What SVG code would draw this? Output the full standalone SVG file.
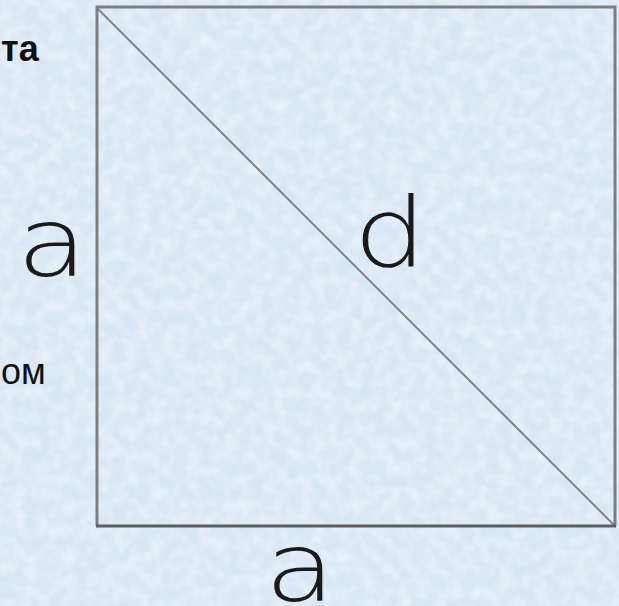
<svg xmlns="http://www.w3.org/2000/svg" width="619" height="606" viewBox="0 0 619 606">
  <defs>
    <filter id="tex" x="0" y="0" width="100%" height="100%">
      <feTurbulence type="fractalNoise" baseFrequency="0.08" numOctaves="2" seed="3" result="n"/>
      <feColorMatrix in="n" type="matrix" values="0 0 0 0 1  0 0 0 0 1  0 0 0 0 1  0 0 0 0.9 -0.35" result="w"/>
      <feComposite in="w" in2="SourceGraphic" operator="over"/>
    </filter>
  </defs>
  <style>
    .edge { stroke: #7e7e80; stroke-width: 3; fill: none; }
    .diag { stroke: #858585; stroke-width: 2; fill: none; }
    .big { font-family: "DejaVu Sans", "Liberation Sans", sans-serif; font-weight: 200; font-size: 96px; fill: #1a1a1a; text-anchor: middle; }
    .side { font-family: "Liberation Sans", Arial, sans-serif; fill: #111; }
  </style>
  <rect x="0" y="0" width="619" height="606" fill="#d9e7f5" filter="url(#tex)"/>
  <g id="left-text">
    <text class="side" x="1" y="61" font-size="36" font-weight="bold">та</text>
    <text class="side" x="1" y="384" font-size="36">ом</text>
  </g>
  <g id="connectors">
    <line class="diag" x1="97" y1="8" x2="615" y2="526"/>
  </g>
  <g id="square">
    <polyline class="edge" points="97,526 97,7 615,7 615,526"/>
    <line x1="96" y1="526" x2="616" y2="526" stroke="#5e5e60" stroke-width="3"/>
  </g>
  <g id="label-a-left">
    <text class="big" x="0" y="276" transform="translate(52 0) scale(1.2 1)">a</text>
  </g>
  <g id="label-d">
    <text class="big" x="0" y="266" transform="translate(390 0) scale(1.2 1)">d</text>
  </g>
  <g id="label-a-bottom">
    <text class="big" x="0" y="601" transform="translate(300 0) scale(1.2 1)">a</text>
  </g>
</svg>
